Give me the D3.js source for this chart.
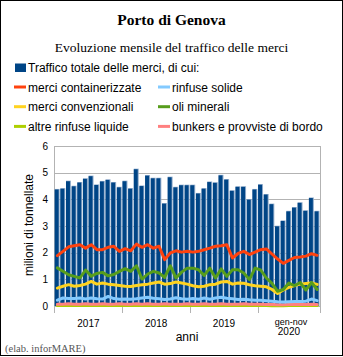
<!DOCTYPE html>
<html><head><meta charset="utf-8">
<script src="https://cdn.jsdelivr.net/npm/d3@7"></script>
<style>body{margin:0;background:#fff}svg{display:block}</style>
</head><body>
<svg id="c" width="343" height="357"></svg>
<script>
// Jan 2017 .. Nov 2020 (47 months), milioni di tonnellate
const years = ["2017","2018","2019","2020"];
const monthsPerYear = [12,12,12,11];
const yTicks = [0,1,2,3,4,5,6];
const totale = [4.39,4.42,4.70,4.51,4.65,4.79,4.89,4.56,4.69,4.75,4.65,4.47,
  4.70,4.42,5.15,4.52,4.91,4.81,4.81,3.86,4.85,4.47,4.55,4.55,
  4.55,4.24,4.42,4.67,4.64,4.92,4.76,4.34,4.49,4.49,4.01,4.39,
  4.57,4.20,3.84,3.01,3.21,3.57,3.71,3.89,3.59,4.07,3.57];
const container = [1.89,2.05,2.22,2.26,2.30,2.17,2.30,2.11,2.11,2.20,2.24,2.05,
  2.15,2.07,2.32,2.20,2.30,2.17,2.24,1.74,1.99,2.07,2.02,2.05,
  2.02,2.05,2.11,2.17,2.24,2.26,2.30,1.80,1.97,2.05,1.93,2.02,
  2.11,2.14,1.95,1.76,1.60,1.71,1.82,1.84,1.87,1.96,1.90];
const solide = [0.22,0.30,0.28,0.28,0.30,0.26,0.30,0.27,0.26,0.36,0.28,0.25,
  0.26,0.25,0.27,0.30,0.33,0.29,0.27,0.24,0.26,0.31,0.27,0.25,
  0.28,0.25,0.30,0.25,0.30,0.33,0.29,0.27,0.24,0.25,0.23,0.22,
  0.22,0.20,0.18,0.16,0.15,0.16,0.17,0.17,0.18,0.26,0.20];
const convenzionali = [0.67,0.74,0.80,0.74,0.77,0.82,0.92,0.82,0.86,0.82,0.80,0.77,
  0.74,0.73,0.77,0.80,0.82,0.86,0.90,0.82,0.84,0.90,0.86,0.82,
  0.76,0.72,0.74,0.80,0.82,0.90,0.92,0.82,0.86,0.85,0.80,0.76,
  0.74,0.72,0.62,0.47,0.60,0.70,0.77,0.82,0.84,0.86,0.81];
const oli = [1.43,1.30,1.17,1.11,1.05,1.35,1.12,1.22,1.26,1.13,1.18,1.30,
  1.40,1.30,1.51,1.01,1.20,1.30,1.24,1.07,1.51,1.05,1.27,1.42,
  1.42,1.36,1.15,1.42,1.05,1.39,1.11,1.36,1.36,1.24,0.99,1.42,
  1.35,1.05,0.85,0.55,0.62,0.86,0.76,0.88,0.60,0.88,0.62];
const altreLiquide = [0.02,0.02,0.03,0.02,0.02,0.03,0.02,0.02,0.03,0.02,0.02,0.02,
  0.03,0.02,0.02,0.03,0.02,0.02,0.03,0.02,0.02,0.02,0.03,0.02,
  0.02,0.03,0.02,0.02,0.02,0.03,0.02,0.02,0.02,0.03,0.02,0.02,
  0.02,0.02,0.01,0.01,0.01,0.02,0.02,0.02,0.02,0.02,0.02];
const bunkers = [0.07,0.07,0.08,0.07,0.07,0.08,0.07,0.07,0.08,0.07,0.07,0.08,
  0.07,0.07,0.08,0.07,0.08,0.07,0.07,0.08,0.07,0.07,0.07,0.08,
  0.07,0.07,0.08,0.07,0.07,0.08,0.07,0.07,0.07,0.08,0.07,0.07,
  0.07,0.06,0.06,0.05,0.05,0.06,0.06,0.06,0.06,0.07,0.06];
const seriesNames = ["Traffico totale delle merci, di cui:","merci containerizzate","rinfuse solide",
  "merci convenzionali","oli minerali","altre rinfuse liquide","bunkers e provviste di bordo"];
const colors = ["#004586","#ff420e","#83caff","#ffd320","#579d1c","#aecf00","#ff8080"];

const svg = d3.select("#c");
const n = totale.length;
const idx = d3.range(n);
const x = d3.scaleBand().domain(idx).range([54.5, 320]).paddingInner(0).paddingOuter(0);
const y = d3.scaleLinear().domain([0,6]).range([306, 146]);
const bw = x.bandwidth();

// frame
svg.append("rect").attr("x",0.5).attr("y",0.5).attr("width",342).attr("height",355)
  .attr("fill","#fff").attr("stroke","#000");

// grid
svg.append("g").selectAll("line").data(yTicks).join("line")
  .attr("x1",54.5).attr("x2",320.5)
  .attr("y1",d=>Math.round(y(d))+0.5).attr("y2",d=>Math.round(y(d))+0.5)
  .attr("stroke","#b3b3b3");
// left axis & right border
svg.append("line").attr("x1",54.5).attr("x2",54.5).attr("y1",146).attr("y2",313).attr("stroke","#b3b3b3");
svg.append("line").attr("x1",320.5).attr("x2",320.5).attr("y1",146).attr("y2",313).attr("stroke","#b3b3b3");
// year boundary ticks
let acc = 0; const bounds=[];
monthsPerYear.forEach((m,i)=>{ bounds.push(acc); acc+=m; });
svg.append("g").selectAll("line").data(bounds.slice(1)).join("line")
  .attr("x1",d=>Math.round(x(d))+0.5).attr("x2",d=>Math.round(x(d))+0.5)
  .attr("y1",306).attr("y2",313).attr("stroke","#b3b3b3");

// y tick labels
svg.append("g").selectAll("text").data(yTicks).join("text")
  .attr("x",48).attr("y",d=>y(d)+3.5).attr("text-anchor","end")
  .attr("font-family","Liberation Sans, Arial, sans-serif").attr("font-size",10).attr("fill","#000")
  .text(d=>d);

// bars
const bars = svg.append("g");
bars.selectAll("rect.l").data(totale).join("rect").attr("class","l")
  .attr("x",(d,i)=>x(i)+0.2).attr("width",bw-0.7)
  .attr("y",d=>y(d)).attr("height",d=>y(0)-y(d)).attr("fill","#8fabcb");
bars.selectAll("rect.d").data(totale).join("rect").attr("class","d")
  .attr("x",(d,i)=>x(i)+0.2).attr("width",bw-1.7)
  .attr("y",d=>y(d)+0.6).attr("height",d=>y(0)-y(d)-0.6).attr("fill","#004586");

// lines
const line = d3.line().x((d,i)=>x(i)+bw/2).y(d=>y(d)).curve(d3.curveLinear);
const lineData = [[altreLiquide,5],[bunkers,6],[solide,2],[convenzionali,3],[oli,4],[container,1]];
lineData.forEach(([arr,c])=>{
  svg.append("path").datum(arr).attr("d",line).attr("fill","none")
    .attr("stroke",colors[c]).attr("stroke-width",3).attr("stroke-linejoin","round").attr("stroke-linecap","round");
});

// x labels
const xl = svg.append("g").attr("font-family","Liberation Sans, Arial, sans-serif").attr("fill","#000");
years.forEach((yr,i)=>{
  const a = x(bounds[i]), b = x(bounds[i]+monthsPerYear[i]-1)+bw;
  const cx = (a+b)/2;
  if(i<3){
    xl.append("text").attr("x",cx).attr("y",327).attr("text-anchor","middle").attr("font-size",10).text(yr);
  } else {
    xl.append("text").attr("x",cx+2).attr("y",324.5).attr("text-anchor","middle").attr("font-size",9).text("gen-nov");
    xl.append("text").attr("x",cx).attr("y",335).attr("text-anchor","middle").attr("font-size",10).text(yr);
  }
});
svg.append("text").attr("x",187).attr("y",341).attr("text-anchor","middle")
  .attr("font-family","Liberation Sans, Arial, sans-serif").attr("font-size",12).text("anni");
svg.append("text").attr("transform","translate(33,225) rotate(-90)").attr("text-anchor","middle")
  .attr("font-family","Liberation Sans, Arial, sans-serif").attr("font-size",12).text("milioni di tonnellate");

// titles
svg.append("text").attr("x",171.5).attr("y",25).attr("text-anchor","middle")
  .attr("font-family","Liberation Serif, Times New Roman, serif").attr("font-weight","bold").attr("font-size",15.5)
  .text("Porto di Genova");
svg.append("text").attr("x",171.5).attr("y",52).attr("text-anchor","middle")
  .attr("font-family","Liberation Serif, Times New Roman, serif").attr("font-size",13.5)
  .text("Evoluzione mensile del traffico delle merci");

// legend
const lg = svg.append("g").attr("font-family","Liberation Sans, Arial, sans-serif").attr("font-size",12);
lg.append("rect").attr("x",15).attr("y",63.5).attr("width",11).attr("height",8.5).attr("fill",colors[0]);
lg.append("text").attr("x",28).attr("y",71.5).text(seriesNames[0]);
const legItems = [[1,0,0],[2,1,0],[3,0,1],[4,1,1],[5,0,2],[6,1,2]];
legItems.forEach(([s,col,row])=>{
  const lx = col===0?14:158, ly = 87+row*19.7;
  lg.append("line").attr("x1",lx).attr("x2",lx+12).attr("y1",ly).attr("y2",ly)
    .attr("stroke",colors[s]).attr("stroke-width",3);
  lg.append("text").attr("x",lx+14).attr("y",ly+4.5).text(seriesNames[s]);
});

svg.append("text").attr("x",5).attr("y",352).attr("font-family","Liberation Serif, Times New Roman, serif")
  .attr("font-size",10.5).attr("fill","#555").text("(elab. inforMARE)");
</script>
</body></html>
